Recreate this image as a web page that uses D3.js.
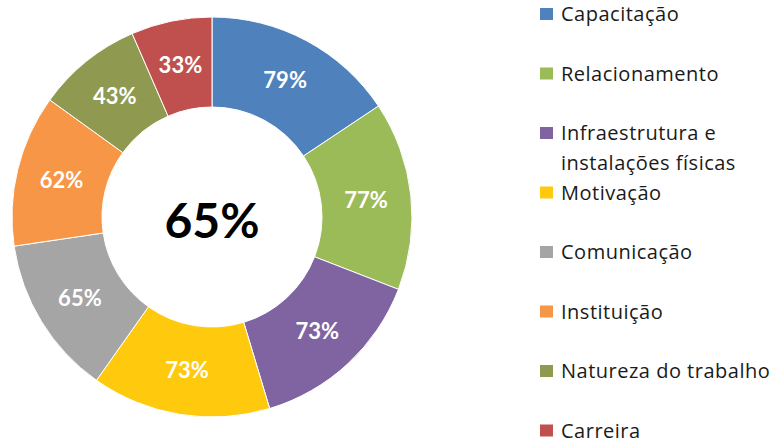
<!DOCTYPE html>
<html>
<head>
<meta charset="utf-8">
<script src="https://cdn.jsdelivr.net/npm/d3@7.9.0/dist/d3.min.js"></script>
<style>
  body { margin: 0; background: #fff; }
  svg { display: block; font-family: Lato, "Open Sans", sans-serif; }
</style>
</head>
<body>
<svg id="chart" width="776" height="443"></svg>
<script>
const categories = ['Capacitação', 'Relacionamento', 'Infraestrutura e|instalações físicas', 'Motivação',
  'Comunicação', 'Instituição', 'Natureza do trabalho', 'Carreira'];
const values = [79, 77, 73, 73, 65, 62, 43, 33];
const colorList = ['#4F81BD', '#9BBB59', '#8064A2', '#FFC90E', '#A5A5A5', '#F79646', '#8F9A50', '#C0504D'];
const centerLabel = '65%';

const svg = d3.select('#chart');
const cx = 212, cy = 217, outerR = 200, innerR = 110;

const data = categories.map((c, i) => ({ label: c, value: values[i] }));
const color = d3.scaleOrdinal().domain(categories).range(colorList);

const pie = d3.pie().value(d => d.value).sort(null);
const arc = d3.arc().innerRadius(innerR).outerRadius(outerR);
const labelArc = d3.arc().innerRadius(155).outerRadius(155);

const g = svg.append('g').attr('transform', `translate(${cx},${cy})`);
const arcs = pie(data);

g.selectAll('path')
  .data(arcs)
  .join('path')
  .attr('d', arc)
  .attr('fill', d => color(d.data.label))
  .attr('stroke', '#fff')
  .attr('stroke-width', 1);

g.selectAll('text.val')
  .data(arcs)
  .join('text')
  .attr('class', 'val')
  .attr('transform', d => `translate(${labelArc.centroid(d)})`)
  .attr('text-anchor', 'middle')
  .attr('dy', '0.36em')
  .attr('fill', '#fff')
  .attr('font-weight', 'bold')
  .attr('font-size', 22)
  .text(d => d.data.value + '%');

g.append('text')
  .attr('text-anchor', 'middle')
  .attr('dy', '0.36em')
  .attr('y', 4)
  .attr('font-weight', 'bold')
  .attr('font-size', 48)
  .attr('fill', '#000')
  .text(centerLabel);

// legend
const legend = svg.append('g').attr('transform', 'translate(540,14)');
const items = legend.selectAll('g')
  .data(data)
  .join('g')
  .attr('transform', (d, i) => `translate(0,${i * 59.5})`);

items.append('rect')
  .attr('x', 0).attr('y', -6)
  .attr('width', 13).attr('height', 12)
  .attr('fill', d => color(d.label));

items.append('text')
  .attr('x', 21)
  .attr('font-family', '"Open Sans", sans-serif')
  .attr('font-size', 20)
  .attr('letter-spacing', 0.5)
  .attr('fill', '#1a1a1a')
  .each(function(d) {
    d.label.split('|').forEach((line, j) => {
      d3.select(this).append('tspan')
        .attr('x', 21)
        .attr('dy', j === 0 ? '0.35em' : '1.5em')
        .text(line);
    });
  });
</script>
</body>
</html>
